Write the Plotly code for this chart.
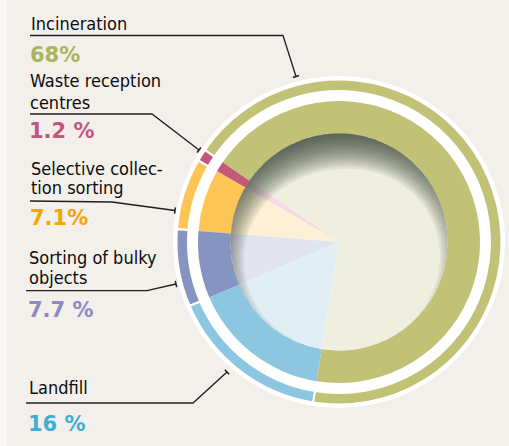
import math
import plotly.graph_objects as go

W, H = 509, 446

# ---- data ----
categories = ["Incineration", "Waste reception<br>centres", "Selective collec-<br>tion sorting",
              "Sorting of bulky<br>objects", "Landfill"]
shares = [68, 1.2, 7.1, 7.7, 16]
share_labels = ["68%", "1.2 %", "7.1%", "7.7 %", "16 %"]

# ---- styles ----
ring_colors = ["#c2c276", "#c65878", "#fdc456", "#8594c0", "#8dc6e0"]
pale_colors = ["#efefdf", "#f2dbe3", "#fdf0d6", "#e1e4ef", "#e1eff5"]
pct_colors = ["#a9b45c", "#c3567d", "#f5a400", "#8d89c3", "#3caed8"]
BG = "#f3f0eb"
CX, CY = 339, 242  # pixel centre of the donut

def px(x):
    return x / W

def py(y):
    return 1 - y / H

def dom(r):
    return dict(x=[px(CX - r), px(CX + r)], y=[py(CY + r), py(CY - r)])

fig = go.Figure()

# white backing disc
fig.add_trace(go.Pie(values=[1], labels=["bg"], marker=dict(colors=["#ffffff"]),
                     domain=dom(166), textinfo="none", hoverinfo="skip", sort=False,
                     showlegend=False))
# outer thin ring
fig.add_trace(go.Pie(values=shares, labels=categories, marker=dict(colors=ring_colors, line=dict(color="#ffffff", width=2)),
                     domain=dom(162.5), hole=151 / 162.5, textinfo="none", sort=False,
                     direction="counterclockwise", rotation=-55.6, showlegend=False))
# inner thick ring
fig.add_trace(go.Pie(values=shares, labels=categories, marker=dict(colors=ring_colors, line=dict(width=0)),
                     domain=dom(141), hole=108.5 / 141, textinfo="none", sort=False,
                     direction="counterclockwise", rotation=-55.6, showlegend=False))
# pale centre pie
fig.add_trace(go.Pie(values=shares, labels=categories, marker=dict(colors=pale_colors, line=dict(width=0)),
                     domain=dom(108.5), textinfo="none", sort=False,
                     direction="counterclockwise", rotation=-55.6, showlegend=False))

shapes = []
# lighter strip on the left edge
shapes.append(dict(type="rect", xref="paper", yref="paper", x0=0, x1=px(7), y0=0, y1=1,
                   fillcolor="#f8f7f4", line=dict(width=0), layer="below"))

# inner shadow: stacked crescents, deepest at the top-left
R0 = 108.5
N = 16
G = 36.0
P = 1.6
sh_dir = math.radians(-100)  # screen angle of shadow direction (up, slightly left)

def polar_path(rfun, n=180):
    pts = []
    for k in range(n):
        a = 2 * math.pi * k / n
        r = rfun(a)
        pts.append((px(CX + r * math.cos(a)), py(CY + r * math.sin(a))))
    return "M " + " L ".join(f"{x:.5f},{y:.5f}" for x, y in pts) + " Z"

def gap(a):
    c = (1 + math.cos(a - sh_dir)) / 2
    return G * c ** P

outer = polar_path(lambda a: R0)
for k in range(N):
    t = G * k / N
    inner = polar_path(lambda a, t=t: R0 - max(0.0, gap(a) - t))
    shapes.append(dict(type="path", xref="paper", yref="paper", path=outer + " " + inner,
                       fillrule="evenodd", fillcolor="rgba(45,47,34,0.075)",
                       line=dict(width=0), layer="above"))

# leader lines
leaders = [
    [(30, 35.5), (283, 35.5), (296, 76.5)],
    [(30, 114), (152, 114), (199, 150)],
    [(30, 201), (112, 202), (175, 210.5)],
    [(26, 290.7), (147, 290.7), (176, 284)],
    [(26, 403), (193, 403), (227, 372)],
]
for pts in leaders:
    path = "M " + " L ".join(f"{px(x):.5f},{py(y):.5f}" for x, y in pts)
    shapes.append(dict(type="path", xref="paper", yref="paper", path=path,
                       line=dict(color="#1e1e1e", width=1.3), layer="above"))
    (x1, y1), (x2, y2) = pts[-2], pts[-1]
    dx, dy = x2 - x1, y2 - y1
    L = math.hypot(dx, dy)
    nx, ny = -dy / L * 3.2, dx / L * 3.2
    shapes.append(dict(type="line", xref="paper", yref="paper",
                       x0=px(x2 - nx), y0=py(y2 - ny), x1=px(x2 + nx), y1=py(y2 + ny),
                       line=dict(color="#1e1e1e", width=1.5), layer="above"))

# text
label_font = "DejaVu Sans Condensed, Liberation Sans Narrow, sans-serif"
pct_font = "DejaVu Sans, sans-serif"
label_lines_y = [[22], [80, 101], [167, 186], [256, 276], [386.5]]
label_x = [29, 28, 29, 26.5, 26.5]
pct_y = [54.5, 129.5, 216.5, 308.5, 423]

ann = []
for i, cat in enumerate(categories):
    for line, yy in zip(cat.split("<br>"), label_lines_y[i]):
        ann.append(dict(text=line, x=px(label_x[i]), y=py(yy + 1), xref="paper", yref="paper",
                        xanchor="left", yanchor="middle", showarrow=False,
                        font=dict(family=label_font, size=18, color="#0c0c0c")))
    ann.append(dict(text="<b>" + share_labels[i] + "</b>", x=px(label_x[i] - 1), y=py(pct_y[i] + 1),
                    xref="paper", yref="paper", xanchor="left", yanchor="middle", showarrow=False,
                    font=dict(family=pct_font, size=21, color=pct_colors[i])))

fig.update_layout(width=W, height=H, margin=dict(l=0, r=0, t=0, b=0),
                  paper_bgcolor=BG, plot_bgcolor=BG, shapes=shapes, annotations=ann,
                  showlegend=False)

fig.write_html("out.html", config={"displayModeBar": False},
               post_script="document.body.style.margin='0';")
